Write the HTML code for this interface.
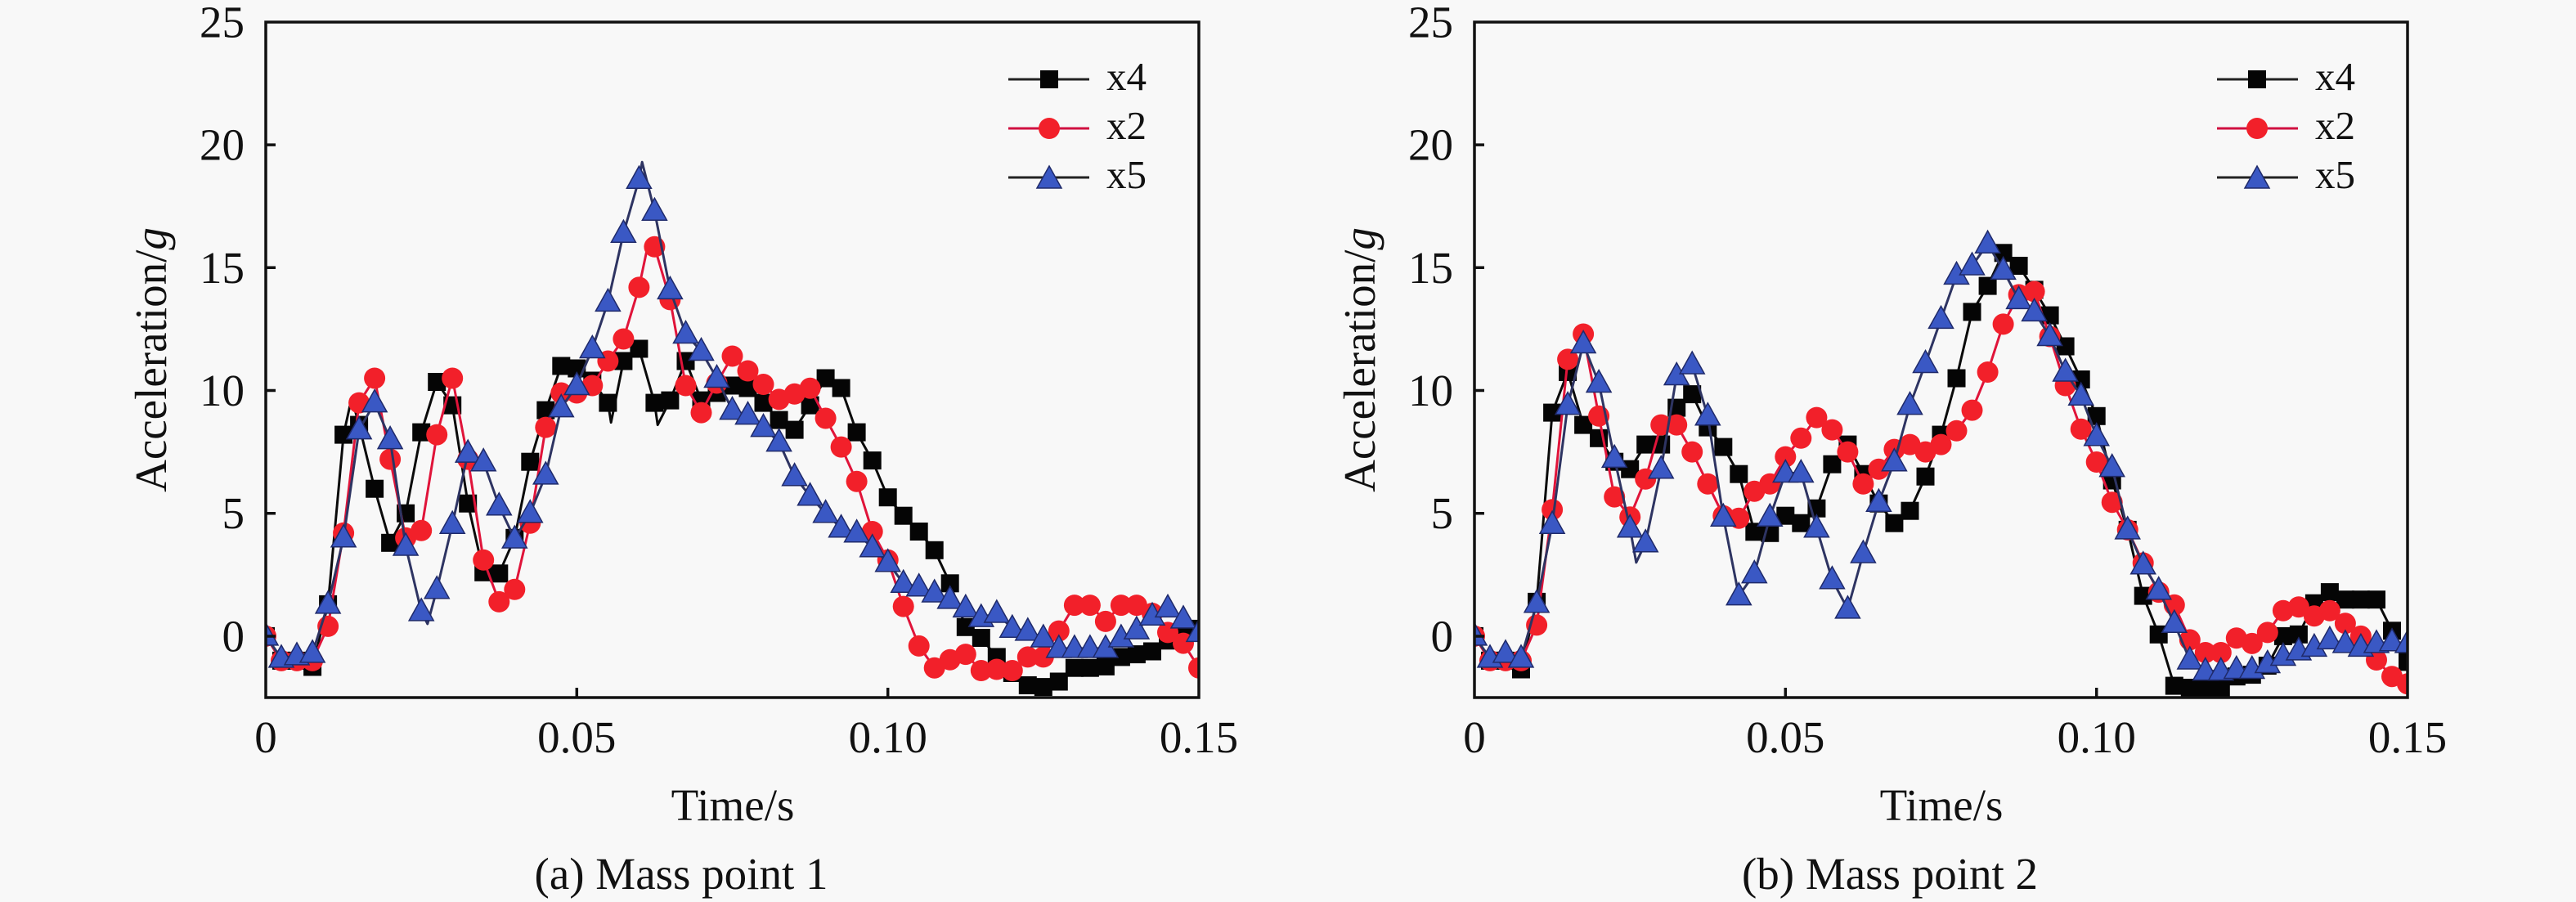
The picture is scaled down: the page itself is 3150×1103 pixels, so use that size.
<!DOCTYPE html>
<html><head><meta charset="utf-8">
<style>
html,body{margin:0;padding:0;background:#f8f8f8;}
svg{display:block;}
svg text{font-family:"Liberation Serif","Times New Roman",serif;fill:#111;}
</style></head><body>
<svg id="s" width="3150" height="1103" viewBox="0 0 3150 1103" xmlns="http://www.w3.org/2000/svg" font-family="'Liberation Serif', 'Times New Roman', serif">
<rect width="3150" height="1103" fill="#f8f8f8"/>
<defs>
<clipPath id="cL"><rect x="325" y="27" width="1141" height="826"/></clipPath>
<clipPath id="cR"><rect x="1803" y="27" width="1141" height="826"/></clipPath>
</defs>
<g id="dL" clip-path="url(#cL)"></g>
<g id="dR" clip-path="url(#cR)"></g>

<!-- Left axes -->
<rect x="325" y="27" width="1141" height="826" fill="none" stroke="#111" stroke-width="3.5"/>
<path d="M325 778h12M325 627.7h12M325 477.5h12M325 327.3h12M325 177.1h12M705.3 853v-12M1085.7 853v-12" stroke="#111" stroke-width="3.5" fill="none"/>
<g font-size="55" text-anchor="end" font-family="'Liberation Serif', serif">
<text x="299" y="45.5">25</text>
<text x="299" y="195.6">20</text>
<text x="299" y="345.8">15</text>
<text x="299" y="496">10</text>
<text x="299" y="646.2">5</text>
<text x="299" y="796.5">0</text>
</g>
<g font-size="55" text-anchor="middle" font-family="'Liberation Serif', serif">
<text x="325" y="920">0</text>
<text x="705.3" y="920">0.05</text>
<text x="1085.7" y="920">0.10</text>
<text x="1466" y="920">0.15</text>
<text x="896" y="1003">Time/s</text>
<text x="833" y="1087">(a) Mass point 1</text>
<text transform="translate(203,440) rotate(-90)">Acceleration/<tspan font-style="italic">g</tspan></text>
</g>

<!-- Right axes -->
<rect x="1803" y="27" width="1141" height="826" fill="none" stroke="#111" stroke-width="3.5"/>
<path d="M1803 778h12M1803 627.7h12M1803 477.5h12M1803 327.3h12M1803 177.1h12M2183.3 853v-12M2563.7 853v-12" stroke="#111" stroke-width="3.5" fill="none"/>
<g font-size="55" text-anchor="end" font-family="'Liberation Serif', serif">
<text x="1777" y="45.5">25</text>
<text x="1777" y="195.6">20</text>
<text x="1777" y="345.8">15</text>
<text x="1777" y="496">10</text>
<text x="1777" y="646.2">5</text>
<text x="1777" y="796.5">0</text>
</g>
<g font-size="55" text-anchor="middle" font-family="'Liberation Serif', serif">
<text x="1803" y="920">0</text>
<text x="2183.3" y="920">0.05</text>
<text x="2563.7" y="920">0.10</text>
<text x="2944" y="920">0.15</text>
<text x="2374" y="1003">Time/s</text>
<text x="2311" y="1087">(b) Mass point 2</text>
<text transform="translate(1681,440) rotate(-90)">Acceleration/<tspan font-style="italic">g</tspan></text>
</g>

<!-- Legends -->
<g id="leg"></g>
<g font-size="49" font-family="'Liberation Serif', serif">
<text x="1353" y="110">x4</text>
<text x="1353" y="170">x2</text>
<text x="1353" y="230">x5</text>
<text x="2831" y="110">x4</text>
<text x="2831" y="170">x2</text>
<text x="2831" y="230">x5</text>
</g>
</svg>
<script>
(function(){
var S=826/27.5, W=1141;
function Y(a){return 853-(a+2.5)*S;}
var LB=[0,0,2.5,-1,5,-1,7.5,-1.25,10,1.3,12.5,8.2,13.8,9.7,15,8.6,17.5,6.0,20,3.8,22.5,5.0,25,8.3,27.5,10.35,30,9.4,32.5,5.4,35,2.6,37.5,2.55,40,4.0,42.5,7.1,45,9.2,47.5,11.0,50,10.9,52.5,10.4,55,9.5,55.5,8.7,57.5,11.2,60,11.7,62.5,9.5,63,8.6,65,9.6,67.5,11.2,70,9.6,72.5,9.9,75,10.2,77.5,10.1,80,9.5,82.5,8.8,85,8.4,87.5,9.4,90,10.5,92.5,10.1,95,8.3,97.5,7.15,100,5.65,102.5,4.9,105,4.26,107.5,3.5,110,2.15,112.5,0.37,115,-0.07,117.5,-0.85,120,-1.5,122.5,-2.0,125,-2.07,127.5,-1.85,130,-1.29,132.5,-1.29,135,-1.23,137.5,-0.85,140,-0.74,142.5,-0.62,145,-0.18,147.5,0.1,150,0.3];
var LR=[0,0,2.5,-1,5,-1,7.5,-1,10,0.4,12.5,4.2,15,9.5,17.5,10.5,20,7.2,22.5,4.0,25,4.3,27.5,8.2,30,10.5,32.5,7.2,35,3.1,37.5,1.4,40,1.9,42.5,4.6,45,8.5,47.5,9.9,50,9.9,52.5,10.2,55,11.2,57.5,12.1,60,14.2,61.5,16.0,62.5,15.85,65,13.7,67.5,10.2,70,9.1,72.5,10.3,75,11.4,77.5,10.8,80,10.25,82.5,9.64,85,9.86,87.5,10.09,90,8.87,92.5,7.7,95,6.3,97.5,4.26,100,3.1,102.5,1.21,105,-0.4,107.5,-1.29,110,-0.96,112.5,-0.74,115,-1.4,117.5,-1.35,120,-1.4,122.5,-0.85,125,-0.85,127.5,0.21,130,1.26,132.5,1.26,135,0.6,137.5,1.26,140,1.26,142.5,0.93,145,0.15,147.5,-0.29,150,-1.29];
var LX=[0,0,2.5,-0.9,5,-0.8,7.5,-0.7,10,1.3,12.5,4.0,15,8.4,17.5,9.5,20,8.0,22.5,3.66,25,1.0,26,0.5,27.5,1.9,30,4.55,32.5,7.45,35,7.1,37.5,5.3,40,3.96,42.5,5.0,45,6.56,47.5,9.3,50,10.2,52.5,11.7,55,13.6,57.5,16.4,60,18.6,60.5,19.3,62.5,17.3,65,14.1,67.5,12.3,70,11.6,72.5,10.5,75,9.2,77.5,9.0,80,8.5,82.5,7.9,85,6.5,87.5,5.7,90,5.0,92.5,4.4,95,4.2,97.5,3.6,100,3.0,102.5,2.15,105,2.0,107.5,1.76,110,1.5,112.5,1.15,115,0.76,117.5,0.93,120,0.32,122.5,0.2,125,-0.07,127.5,-0.5,130,-0.5,132.5,-0.5,135,-0.5,137.5,-0.07,140,0.26,142.5,0.82,145,1.15,147.5,0.7,150,0.15];
var RB=[0,0,2.5,-1,5,-1,7.5,-1.35,10,1.4,12.5,9.1,15,10.75,17.5,8.6,20,8.06,22.5,7.1,25,6.8,27.5,7.8,30,7.8,32.5,9.3,35,9.85,37.5,8.5,40,7.7,42.5,6.6,45,4.25,47.5,4.2,50,4.9,52.5,4.6,55,5.2,57.5,7.0,60,7.8,62.5,6.6,65,5.4,67.5,4.6,70,5.1,72.5,6.5,75,8.2,77.5,10.5,80,13.2,82.5,14.26,85,15.6,87.5,15.08,90,14.1,92.5,13.06,95,11.8,97.5,10.45,100,8.96,102.5,6.34,105,4.33,107.5,1.64,110,0.07,112.5,-2.02,115,-2.1,117.5,-2.1,120,-2.1,122.5,-1.64,125,-1.57,127.5,-1.2,130,0.0,132.5,0.07,135,1.34,137.5,1.79,140,1.49,142.5,1.49,145,1.49,147.5,0.22,150,-1.05];
var RR=[0,0,2.5,-1,5,-1,7.5,-1,10,0.45,12.5,5.15,15,11.27,17.5,12.3,20,8.96,22.5,5.67,25,4.85,27.5,6.4,30,8.6,32.5,8.6,35,7.5,37.5,6.2,40,4.9,42.5,4.8,45,5.9,47.5,6.2,50,7.3,52.5,8.06,55,8.9,57.5,8.4,60,7.5,62.5,6.2,65,6.8,67.5,7.6,70,7.8,72.5,7.5,75,7.8,77.5,8.36,80,9.2,82.5,10.75,85,12.7,87.5,13.9,90,14.03,92.5,12.2,95,10.2,97.5,8.43,100,7.09,102.5,5.45,105,4.33,107.5,2.98,110,1.79,112.5,1.27,115,-0.15,117.5,-0.67,120,-0.67,122.5,-0.08,125,-0.3,127.5,0.15,130,1.04,132.5,1.19,135,0.82,137.5,1.04,140,0.52,142.5,0.0,145,-0.97,147.5,-1.64,150,-1.94];
var RX=[0,0,2.5,-0.9,5,-0.7,7.5,-0.9,10,1.34,12.5,4.55,15,9.4,17.5,11.9,20,10.3,22.5,7.24,25,4.4,26,3.0,27.5,3.8,30,6.8,32.5,10.6,35,11.05,37.5,8.96,40,4.85,42.5,1.64,45,2.54,47.5,4.85,50,6.64,52.5,6.64,55,4.4,57.5,2.3,60,1.1,62.5,3.36,65,5.45,67.5,7.1,70,9.4,72.5,11.1,75,12.9,77.5,14.7,80,15.08,82.5,15.97,85,14.9,87.5,13.7,90,13.2,92.5,12.2,95,10.75,97.5,9.78,100,8.13,102.5,6.87,105,4.33,107.5,2.9,110,1.87,112.5,0.52,115,-0.97,117.5,-1.42,120,-1.42,122.5,-1.35,125,-1.35,127.5,-1.12,130,-0.82,132.5,-0.6,135,-0.45,137.5,-0.15,140,-0.3,142.5,-0.45,145,-0.3,147.5,-0.23,150,-0.3];

function mk(type,x,y){
  if(type==0) return '<rect x="'+(x-11)+'" y="'+(y-11)+'" width="22" height="22" fill="#050505"/>';
  if(type==1) return '<circle cx="'+x+'" cy="'+y+'" r="13" fill="#f2202a"/>';
  return '<path d="M'+x+' '+(y-16)+'L'+(x+15)+' '+(y+11)+'L'+(x-15)+' '+(y+11)+'Z" fill="#3a58c4" stroke="#1f2a6a" stroke-width="1.5"/>';
}
var lineCol=['#0a0a0a','#e0143a','#2e3462'];
function series(x0,arr,type){
  var pts=[],m='';
  for(var i=0;i<arr.length;i+=2){
    var x=x0+arr[i]/150*W, y=Y(arr[i+1]);
    pts.push(x.toFixed(1)+','+y.toFixed(1));
    if(Math.abs(arr[i]/2.5-Math.round(arr[i]/2.5))<1e-6) m+=mk(type,+x.toFixed(1),+y.toFixed(1));
  }
  return '<polyline points="'+pts.join(' ')+'" fill="none" stroke="'+lineCol[type]+'" stroke-width="3" stroke-linejoin="round"/>'+m;
}
document.getElementById('dL').innerHTML=series(325,LB,0)+series(325,LR,1)+series(325,LX,2);
document.getElementById('dR').innerHTML=series(1803,RB,0)+series(1803,RR,1)+series(1803,RX,2);
var lg='';
[[1233,1332,1283],[2711,2810,2760]].forEach(function(p){
  var rows=[97,157,217];
  for(var k=0;k<3;k++){
    lg+='<line x1="'+p[0]+'" y1="'+rows[k]+'" x2="'+p[1]+'" y2="'+rows[k]+'" stroke="'+(k==1?'#d01040':'#222')+'" stroke-width="3"/>';
    lg+=mk(k,p[2],rows[k]+(k==2?2:0));
  }
});
document.getElementById('leg').innerHTML=lg;
})();
</script>
</body></html>
